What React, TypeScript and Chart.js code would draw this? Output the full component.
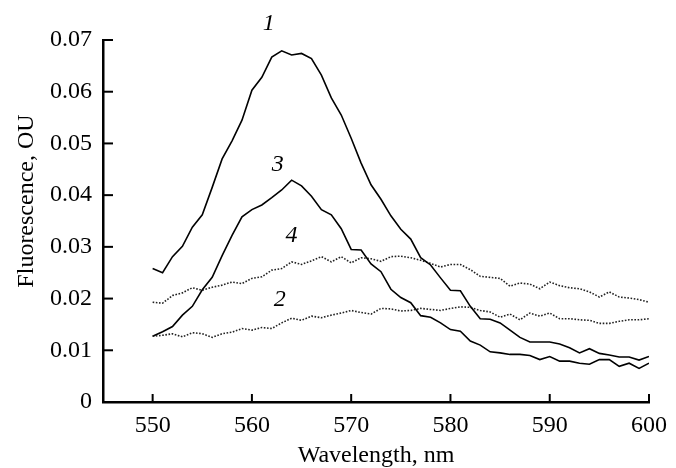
import React, { useEffect, useRef } from "react";
import { Chart, registerables } from "chart.js";

Chart.register(...registerables);

const wavelengths = [
  550, 551, 552, 553, 554, 555, 556, 557, 558, 559, 560, 561, 562, 563, 564, 565, 566,
  567, 568, 569, 570, 571, 572, 573, 574, 575, 576, 577, 578, 579, 580, 581, 582, 583,
  584, 585, 586, 587, 588, 589, 590, 591, 592, 593, 594, 595, 596, 597, 598, 599, 600,
];

const curve1 = [
  0.0258, 0.025, 0.0281, 0.0301, 0.0338, 0.0362, 0.0415, 0.047, 0.0505, 0.0545, 0.0603,
  0.0628, 0.0667, 0.0679, 0.0671, 0.0674, 0.0664, 0.0632, 0.0588, 0.0555, 0.051, 0.0462,
  0.042, 0.0392, 0.036, 0.0334, 0.0315, 0.0279, 0.0265, 0.024, 0.0216, 0.0215, 0.0185,
  0.0161, 0.016, 0.0153, 0.0139, 0.0125, 0.0116, 0.0116, 0.0116, 0.0112, 0.0105, 0.0095,
  0.0103, 0.0094, 0.0091, 0.0087, 0.0087, 0.0081, 0.0088,
];

const curve2 = [
  0.0127, 0.0129, 0.0132, 0.0126, 0.0134, 0.0132, 0.0125, 0.0132, 0.0135, 0.0142, 0.0139,
  0.0144, 0.0142, 0.0153, 0.0162, 0.0158, 0.0166, 0.0163, 0.0168, 0.0172, 0.0177, 0.0173,
  0.017, 0.0181, 0.018, 0.0176, 0.0177, 0.0181, 0.0179, 0.0177, 0.0181, 0.0184, 0.0183,
  0.0177, 0.0174, 0.0164, 0.017, 0.0159, 0.0172, 0.0166, 0.0172, 0.0161, 0.0161, 0.0159,
  0.0158, 0.0152, 0.0152, 0.0156, 0.0159, 0.0159, 0.0161,
];

const curve3 = [
  0.0127, 0.0136, 0.0146, 0.0168, 0.0185, 0.0217, 0.0241, 0.0283, 0.0322, 0.0358, 0.0372,
  0.0381, 0.0395, 0.041, 0.0429, 0.0418, 0.0398, 0.0372, 0.0362, 0.0335, 0.0295, 0.0294,
  0.0267, 0.0252, 0.0218, 0.0202, 0.0192, 0.0167, 0.0164, 0.0153, 0.014, 0.0137, 0.0118,
  0.011, 0.0097, 0.0095, 0.0092, 0.0092, 0.009, 0.0082, 0.0088, 0.0079, 0.0079, 0.0075,
  0.0073, 0.0082, 0.0082, 0.0069, 0.0075, 0.0065, 0.0075,
];

const curve4 = [
  0.0193, 0.0191, 0.0206, 0.0211, 0.0221, 0.0216, 0.0222, 0.0226, 0.0232, 0.0229, 0.0239,
  0.0242, 0.0255, 0.0258, 0.0271, 0.0266, 0.0273, 0.0281, 0.0271, 0.0281, 0.0269, 0.0279,
  0.0277, 0.0272, 0.0281, 0.0282, 0.0279, 0.0274, 0.0268, 0.0261, 0.0266, 0.0266, 0.0256,
  0.0243, 0.0241, 0.0239, 0.0224, 0.023, 0.0228, 0.0219, 0.0232, 0.0225, 0.0221, 0.0219,
  0.0213, 0.0203, 0.0213, 0.0203, 0.0201, 0.0198, 0.0193,
];

const xTicks = [550, 560, 570, 580, 590, 600];
const yTicks = [0, 0.01, 0.02, 0.03, 0.04, 0.05, 0.06, 0.07];

const curveLabels = ["1", "2", "3", "4"];
const curveLabelX = [561.7, 562.8, 562.6, 564.0];
const curveLabelY = [0.0731, 0.0197, 0.0458, 0.0322];

const xTitle = "Wavelength, nm";
const yTitle = "Fluorescence, OU";

const FONT = "'Liberation Serif', 'Times New Roman', serif";

const toPoints = (vals: number[]) => wavelengths.map((w, i) => ({ x: w, y: vals[i] }));

const decorPlugin = {
  id: "decor",
  afterDraw(chart: any) {
    const { ctx, scales } = chart;
    const xs = scales.x;
    const ys = scales.y;
    const axisY = ys.getPixelForValue(0);
    const axisX = xs.left;
    ctx.save();
    ctx.strokeStyle = "#000";
    ctx.lineWidth = 2;
    ctx.lineCap = "butt";
    for (const v of xTicks) {
      const px = xs.getPixelForValue(v);
      ctx.beginPath();
      ctx.moveTo(px, axisY);
      ctx.lineTo(px, axisY - 8);
      ctx.stroke();
    }
    for (const v of yTicks) {
      const py = ys.getPixelForValue(v);
      ctx.beginPath();
      ctx.moveTo(axisX, py);
      ctx.lineTo(axisX + 10, py);
      ctx.stroke();
    }
    ctx.fillStyle = "#000";
    ctx.font = `italic 24px ${FONT}`;
    ctx.textAlign = "center";
    ctx.textBaseline = "middle";
    curveLabels.forEach((t, i) => {
      ctx.fillText(t, xs.getPixelForValue(curveLabelX[i]), ys.getPixelForValue(curveLabelY[i]));
    });
    ctx.font = `24px ${FONT}`;
    ctx.translate(27, 201);
    ctx.rotate(-Math.PI / 2);
    ctx.textAlign = "center";
    ctx.textBaseline = "middle";
    ctx.fillText(yTitle, 0, 0);
    ctx.restore();
  },
};

export default function App() {
  const ref = useRef<HTMLCanvasElement | null>(null);
  useEffect(() => {
    if (!ref.current) return;
    const solid = { borderColor: "#000", borderWidth: 1.6, pointRadius: 0, tension: 0, fill: false };
    const dotted = {
      borderColor: "#222",
      borderWidth: 1.6,
      borderDash: [1.6, 1.6],
      pointRadius: 0,
      tension: 0,
      fill: false,
    };
    const chart = new Chart(ref.current, {
      type: "line",
      data: {
        datasets: [
          { label: "1", data: toPoints(curve1), ...solid },
          { label: "2", data: toPoints(curve2), ...dotted },
          { label: "3", data: toPoints(curve3), ...solid },
          { label: "4", data: toPoints(curve4), ...dotted },
        ],
      },
      options: {
        responsive: false,
        animation: false,
        layout: { padding: { top: 40, right: 21, bottom: 0, left: 0 }, autoPadding: false },
        plugins: { legend: { display: false }, tooltip: { enabled: false } },
        scales: {
          x: {
            type: "linear",
            min: 545,
            max: 600,
            afterBuildTicks: (s: any) => {
              s.ticks = xTicks.map((v) => ({ value: v }));
            },
            afterFit: (s: any) => {
              s.height = 66;
            },
            grid: { display: false, drawTicks: false },
            border: { display: true, color: "#000", width: 2.5 },
            ticks: {
              color: "#000",
              font: { family: FONT, size: 24 },
              padding: 9,
              maxRotation: 0,
              autoSkip: false,
            },
            title: {
              display: true,
              text: xTitle,
              color: "#000",
              font: { family: FONT, size: 24, lineHeight: 1 },
              padding: { top: 0, bottom: 0 },
            },
          },
          y: {
            type: "linear",
            min: 0,
            max: 0.07,
            afterBuildTicks: (s: any) => {
              s.ticks = yTicks.map((v) => ({ value: v }));
            },
            afterFit: (s: any) => {
              s.width = 103;
            },
            grid: { display: false, drawTicks: false },
            border: { display: true, color: "#000", width: 2.5 },
            ticks: {
              color: "#000",
              font: { family: FONT, size: 24 },
              padding: 11,
              autoSkip: false,
              callback: (v: any) => (Number(v) === 0 ? "0" : Number(v).toFixed(2)),
            },
          },
        },
      },
      plugins: [decorPlugin],
    } as any);
    return () => chart.destroy();
  }, []);
  return (
    <div style={{ position: "fixed", left: 0, top: 0, width: 676, height: 468, background: "#fff" }}>
      <canvas ref={ref} width={676} height={468} style={{ width: 676, height: 468 }} />
    </div>
  );
}
